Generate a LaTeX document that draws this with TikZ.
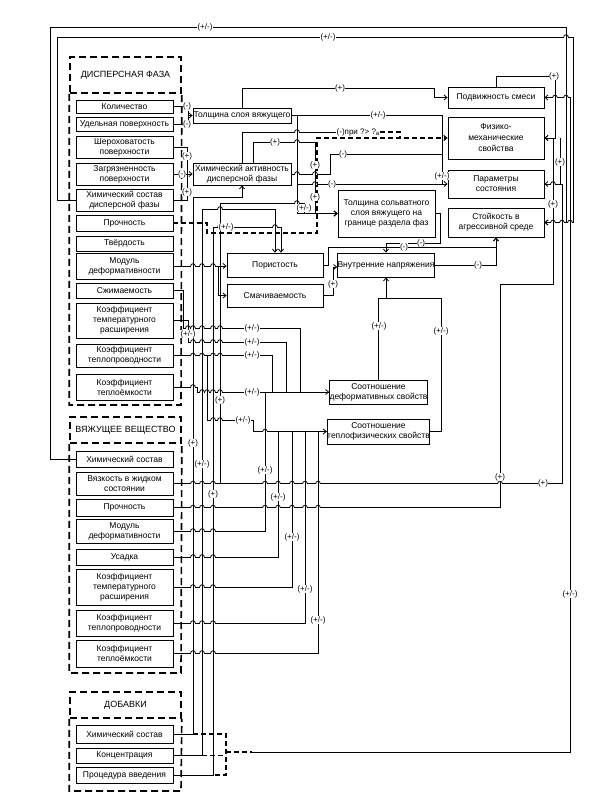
\documentclass[tikz,border=0pt]{standalone}
\usepackage{fontspec}
\setmainfont{Liberation Sans}
\usetikzlibrary{arrows.meta,calc}
\newcommand\mybox[6]{\node[bx,minimum width={#4-#2},minimum height={#5-#3}] (#1) at ({(#2+#4)/2},{(#3+#5)/2}) {#6};}
\newcommand\lab[4]{\node[lbl] (#1) at (#2,#3) {#4};}
\newcommand\hop[2]{\fill[white] (#1-2.3,#2-0.7) rectangle (#1+2.3,#2+0.7);
  \draw (#1,#2-1.2) -- (#1,#2+1.2);
  \draw (#1-2.3,#2) arc[start angle=180,end angle=360,radius=2.3];}
\newcommand\hops[2]{\foreach \hx in {#2} {\hop{\hx}{#1}}}
\begin{document}
\begin{tikzpicture}[x=1pt,y=-1pt,line width=0.8pt,
  bx/.style={draw,line width=0.8pt,inner sep=0pt,align=center,font=\fontsize{8.5}{10}\selectfont},
  grp/.style={draw,line width=1.6pt,dash pattern=on 7pt off 4pt},
  lbl/.style={fill=white,inner sep=0.3pt,font=\fontsize{8}{8}\selectfont},
  ar/.style={-{Straight Barb[length=3pt,width=5pt]}},
  dsh/.style={line width=1.1pt,dash pattern=on 5pt off 3pt}]
\useasboundingbox (0,0) rectangle (611,804);
% groups
\node[grp,minimum width=111,minimum height=36,font=\fontsize{9}{10}\selectfont] (tdf) at (125.5,75) {ДИСПЕРСНАЯ ФАЗА};
\draw[grp] (tdf.south west) |- (181,405) -- (tdf.south east);
\node[grp,minimum width=111,minimum height=26,font=\fontsize{9}{10}\selectfont] (tbv) at (125.5,430) {ВЯЖУЩЕЕ ВЕЩЕСТВО};
\draw[grp] (tbv.south west) |- (181,673) -- (tbv.south east);
\node[grp,minimum width=111,minimum height=26,font=\fontsize{9}{10}\selectfont] (tdob) at (125.5,705) {ДОБАВКИ};
\draw[grp] (tdob.south west) |- (181,791) -- (tdob.south east);
% boxes
\mybox{kol}{76}{100}{173}{113}{Количество}
\mybox{ud}{76}{117}{173}{131}{Удельная поверхность}
\mybox{sher}{76}{136}{173}{158}{Шероховатость\\поверхности}
\mybox{zag}{76}{163}{173}{185}{Загрязненность\\поверхности}
\mybox{dchem}{76}{189}{173}{211}{Химический состав\\дисперсной фазы}
\mybox{dpr}{76}{215}{173}{231}{Прочность}
\mybox{tv}{76}{236}{173}{251}{Твёрдость}
\mybox{dmod}{76}{253}{173}{279}{Модуль\\деформативности}
\mybox{szh}{76}{283}{173}{298}{Сжимаемость}
\mybox{dktr}{76}{303}{173}{338}{Коэффициент\\температурного\\расширения}
\mybox{dtp}{76}{344}{173}{367}{Коэффициент\\теплопроводности}
\mybox{dte}{76}{374}{173}{400}{Коэффициент\\теплоёмкости}
\mybox{bchem}{76}{451}{173}{467}{Химический состав}
\mybox{bvis}{76}{472}{173}{495}{Вязкость в жидком\\состоянии}
\mybox{bpr}{76}{499}{173}{516}{Прочность}
\mybox{bmod}{76}{519}{173}{543}{Модуль\\деформативности}
\mybox{bus}{76}{549}{173}{565}{Усадка}
\mybox{bktr}{76}{569}{173}{605}{Коэффициент\\температурного\\расширения}
\mybox{btp}{76}{610}{173}{636}{Коэффициент\\теплопроводности}
\mybox{bte}{76}{640}{173}{667}{Коэффициент\\теплоёмкости}
\mybox{achem}{76}{725}{173}{743}{Химический состав}
\mybox{aconc}{76}{748}{173}{763}{Концентрация}
\mybox{aproc}{76}{767}{173}{783}{Процедура введения}
\mybox{tol}{193}{108}{291}{123}{Толщина слоя вяжущего}
\mybox{hak}{193}{163}{291}{185}{Химический активность\\дисперсной фазы}
\mybox{tss}{338}{190}{435}{237}{Толщина сольватного\\слоя вяжущего на\\границе раздела фаз}
\mybox{por}{227}{253}{323}{277}{Пористость}
\mybox{sma}{227}{284}{323}{307}{Смачиваемость}
\mybox{vn}{338}{253}{434}{277}{Внутренние напряжения}
\mybox{sd}{330}{380}{427}{404}{Соотношение\\деформативных свойств}
\mybox{st}{330}{419}{427}{444}{Соотношение\\теплофизических свойств}
\mybox{pod}{448}{87}{544}{108}{Подвижность смеси}
\mybox{fm}{448}{117}{544}{159}{Физико-\\[1pt]механические\\[1pt]свойства}
\mybox{ps}{448}{170}{544}{198}{Параметры\\состояния}
\mybox{sto}{448}{208}{544}{237}{Стойкость в\\агрессивной среде}
% coordinates on buses
\coordinate (j1) at (297,115.5);
\coordinate (j2) at (297,184);
\coordinate (j3) at (218,266);
\coordinate (j5) at (220,483.5);
\coordinate (j6) at (226,752);
\coordinate (j7) at (207,355.5);
% outer loops
\draw[ar] (bchem.west) -| (50,27) -| (566,222.5) -- (sto.east);
\draw[ar] (dchem.west) -| (57,37) -| (573,222.5) -- (sto.east);
\draw[ar] (bvis.east) -| (562,184) -- (ps.east);
\draw[ar] (bpr.east) -| (500,284) -| (553,138) -- (fm.east);
\draw[ar] (pod.north) |- (555,76) |- (fm.east);
\draw (ps.east) -| (560,138);
% top
\draw[ar] (kol.east) -| (188,115.5) -- (tol.west);
\draw (ud.east) -| (188,115.5);
\draw (sher.east) -| (187,174);
\draw[ar] (zag.east) -- (hak.west);
\draw (dchem.east) -| (187,174);
\draw[ar] (tol.north) |- (434,88) |- (pod.west);
\draw[ar] (tol.east) -| (442,184) -- (ps.west);
\draw[ar] (j1) |- (tss.west);
\draw (j2) -- (442,184);
\node[lbl,anchor=west] (pri) at (336,132) {(-)при ?> ?\textsubscript{а}};
\draw (hak.north) |- (pri.west);
\draw[dsh] (pri.east) -| (400,138);
\draw[dsh,ar] (dpr.east) -| (207,233) -| (317,138) -- (fm.west);
\draw[ar] ($(hak.north)+(11,0)$) |- (315,142) |- (tss.west);
\draw (hak.east) -| (330,154) -- (442,154);
% middle
\draw[ar] (dmod.east) -- (por.west |- dmod.east);
\draw[ar] (j3) |- (sma.west);
\draw[ar] (por.east) -| (328,247) -| (sto.south);
\draw[ar] (vn.east) -| (sto.south);
\draw[ar] (tss.east) -| (440,243) -| (vn.north);
\draw[ar] (sma.east) -| (333,267) -- (vn.west |- 0,267);
\draw[ar] (sd.north) |- (386,298) -- (vn.south);
\draw (st.east) -| (441,298) -- (386,298);
% dispersed bus
\draw (szh.east) -| (183,328) -- (300,328) |- (sd.west);
\draw (dktr.east) -| (188,342) -- (286,342) |- (sd.west);
\draw (dtp.east) -- (272,355.5) |- (sd.west);
\draw[ar] (dte.east) -| (197,392) -- (sd.west);
\draw[ar] (j7) |- (253,420) |- (st.west);
% binder bus
\draw[ar] (j5) |- (304,203) |- (tss.west);
\draw (bmod.east) -| (265,392);
\draw (bus.east) -| (278,431.5);
\draw (bktr.east) -| (292,431.5);
\draw (btp.east) -| (305,431.5);
\draw (bte.east) -| (318,431.5);
% additives
\draw[ar] (achem.east) -| (193,197) -| (hak.south);
\draw[ar] (aconc.east) -| (202,209) -| (por.north);
\draw[ar] (aproc.east) -| (213,227) -| ($(por.north)+(6,0)$);
\draw[dsh] (193,734) -| (226,775) -- (213,775);
\draw[dsh] (202,755.5) -- (226,755.5);
\draw[dsh] (j6) -- (252,752);
\draw[ar] (252,752) -| (570,97.5) -- (pod.east);
% line hops
\hops{266}{193,202,213}
\hops{328}{188,193,202,213,220}
\hops{342}{193,202,213,220}
\hops{355.5}{193,202,213,220}
\hops{387}{193}
\hops{392}{202,207,213,220}
\hops{420}{213,220}
\hops{431.5}{265}
\hops{483.5}{193,202,213,265,278,292,305,318,500}
\hops{507.5}{193,202,213,265,278,292,305,318}
\hops{531}{193,202,213}
\hops{557}{193,202,213}
\hops{587}{193,202,213}
\hops{623}{193,202,213}
\hops{653}{193,202,213}
\hops{209}{220}
\hops{227}{220,275}
\hops{203}{297}
\hops{174}{297,315}
\hops{132}{297}
\hops{142}{297}
\hops{184}{315}
\hops{222.5}{553,562,570}
\hops{184}{553}
\hops{97.5}{555,566}
\hops{37}{566}
% labels
\lab{l1}{205}{27}{(+/-)}
\lab{l2}{328}{37}{(+/-)}
\lab{l3}{187}{106.5}{(-)}
\lab{l4}{187}{124}{(-)}
\lab{l5}{187}{156}{(+)}
\lab{l6}{182}{174}{(-)}
\lab{l7}{187}{192}{(+)}
\lab{l8}{340}{88}{(+)}
\lab{l9}{378}{115.5}{(+/-)}
\lab{l10}{275}{142}{(+)}
\lab{l11}{343}{154}{(-)}
\lab{l12}{315}{165}{(+)}
\lab{l13}{332}{184}{(-)}
\lab{l14}{554}{76}{(+)}
\lab{l15}{560}{162}{(+)}
\lab{l16}{442}{176}{(+/-)}
\lab{l17}{553}{204}{(+)}
\lab{l18}{304}{208}{(+/-)}
\lab{l19}{315}{197}{(+)}
\lab{l20}{226}{227}{(+/-)}
\lab{l21}{421}{243}{(-)}
\lab{l22}{404}{247}{(-)}
\lab{l23}{478}{265}{(-)}
\lab{l24}{333}{284}{(+)}
\lab{l25}{379}{326}{(+/-)}
\lab{l26}{441}{331}{(+/-)}
\lab{l27}{252}{328}{(+/-)}
\lab{l28}{252}{342}{(+/-)}
\lab{l29}{252}{355.5}{(+/-)}
\lab{l30}{188}{334}{(+/-)}
\lab{l31}{220}{400}{(+)}
\lab{l32}{252}{392}{(+/-)}
\lab{l33}{243}{420}{(+/-)}
\lab{l34}{193}{443}{(+)}
\lab{l35}{202}{464}{(+/-)}
\lab{l36}{213}{494}{(+)}
\lab{l37}{265}{470}{(+/-)}
\lab{l38}{500}{477}{(+)}
\lab{l39}{543}{483.5}{(+)}
\lab{l40}{278}{497}{(+/-)}
\lab{l41}{292}{537}{(+/-)}
\lab{l42}{305}{589}{(+/-)}
\lab{l43}{318}{620}{(+/-)}
\lab{l44}{570}{594}{(+/-)}
\end{tikzpicture}
\end{document}
